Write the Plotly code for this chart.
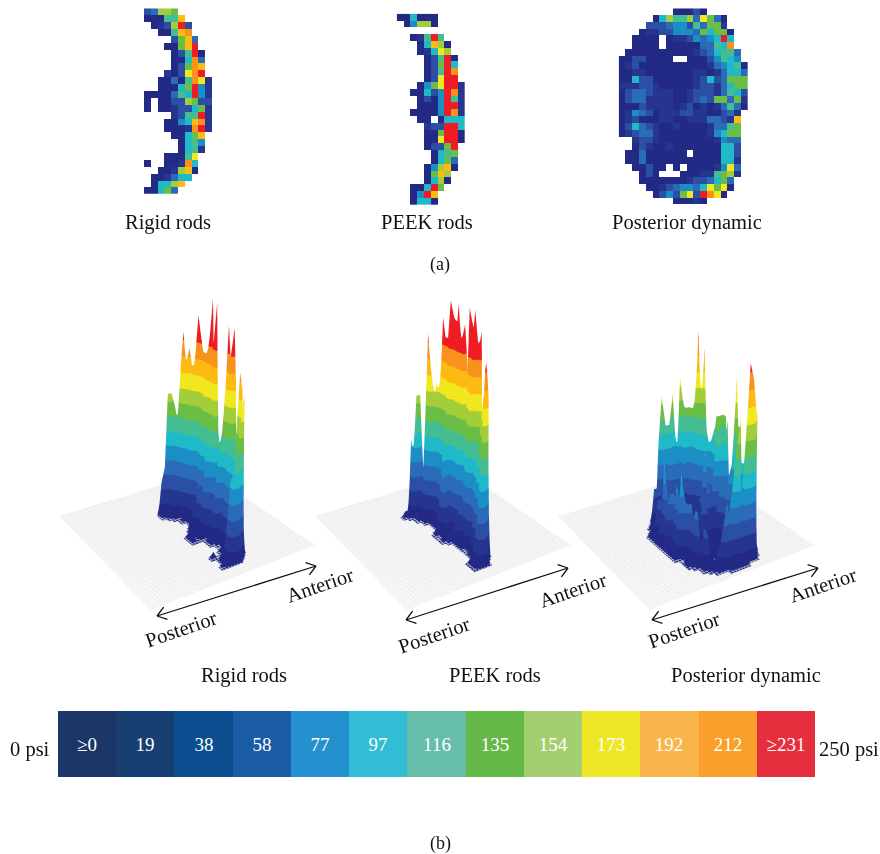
import numpy as np
import plotly.graph_objects as go

W, H = 880, 854
SERIF = "Liberation Serif"

# psi bin lower limits, colour legend labels
LEVEL_PSI = [0, 19, 38, 58, 77, 97, 116, 135, 154, 173, 192, 212, 231, 250]
LEGEND_LABELS = ["≥0", "19", "38", "58", "77", "97", "116", "135", "154", "173", "192", "212", "≥231"]
LEVEL_COLORS = ["#232a86", "#26368f", "#2a4fa5", "#2a6cb8", "#1b8ec6", "#1fb9c8", "#45bd93", "#6abd45",
                "#a3cd39", "#f1e71f", "#fdba12", "#f7931d", "#ee1c25"]
LEGEND_COLORS = ["#1c3668", "#183f72", "#0b4f91", "#1a5ca6", "#2490cd", "#33bcd6", "#66bdaa", "#66b848",
                 "#a3cf70", "#efe627", "#f9b54a", "#f8a02b", "#e62f3e"]
CODES = "0123456789abc"
# red cells whose spikes rise above the scale in panel (b)
HIGH_PSI = {"d": 262, "e": 285}

# sensor cells read from the pressure maps: one character per bin, "." = no contact
RIGID = [
    "23887.....", "00066a....", ".0128c2...", "..006ab...", "....27a3..", "...007ad..", "....026c0.",
    "....005b3.", "....027ba.", "...1029be.", "..00306b91", "..00057c41", "0000365e41", "0.00228722",
    "0.00122571", "....1266d1", "...0045ab1", "...0001bd1", "....0057a.", ".....0564.", ".....0561.",
    "...00069..", "0..001b5..", "..0018a0..", ".001355...", ".0558a....", "00573.....",
]
PEEK = [
    "005000....", ".04880....", "..........", "..016c6...", "...05a80..", "...01598..", "....026d0.",
    "....027c5.", "....026cb.", "....029ed.", "...0479cd1", "..00524cb1", "...0204e61", "...0004cd1",
    "..00004cb1", "...00.0555", "....122ed5", "....007cd0", "....009ec0", "....0227d.", ".....0567.",
    ".....0573.", "....048a0.", "....07a8..", "....0580..", "..005c7...", "..04ca....", "..0550....",
]
DYNAMIC = [
    "........00020......", ".....05866839730...", "....222344263771...", "...01122444375770..",
    "..0000.01124345c5..", "..0000.000003365b..", ".00000000001235663.", "00220000..00024654.",
    "0120000000000134560", "0011000000011013553", "0052200000012523777", "1112210000012213577",
    "0233211100122213652", "0233111100123277371", "0002111101201013630", "014320111221100231.",
    "01200011001113321a.", "025321001000013367.", "012331000000014577.", "..1221000000001433.",
    "..0210010000000552.", ".003000000.0000552.", ".00300000000000551.", "..00200.0.00001493.",
    "...020...000116781.", "...00000001223573..", "....0012344359790..", ".....0242792cb90...",
    "........00010......",
]
FLOOR_LINES = 57
CELLS = 45
OFFSETS = {"rigid": (21, 14), "peek": (18, 13), "dynamic": (14, 14)}


def px(x):
    return x / W


def py(y):
    return 1 - y / H


def stepped(colors):
    out = []
    for i, c in enumerate(colors):
        out += [[LEVEL_PSI[i] / 250, c], [LEVEL_PSI[i + 1] / 250, c]]
    return out


def cells(rows):
    n = max(len(r) for r in rows)
    m = np.full((len(rows), n), np.nan)
    for i, r in enumerate(rows):
        for j, ch in enumerate(r):
            if ch in CODES:
                k = CODES.index(ch)
                m[i, j] = (LEVEL_PSI[k] + LEVEL_PSI[k + 1]) / 2
            elif ch in HIGH_PSI:
                m[i, j] = HIGH_PSI[ch]
    return m


def on_floor(m, off):
    f = np.full((CELLS, CELLS), np.nan)
    ox, oy = off
    for i in range(m.shape[0]):
        for j in range(m.shape[1]):
            f[CELLS - 1 - (i + oy), j + ox] = m[i, j]
    d = ~np.isnan(f)
    ring = np.zeros_like(d)
    for a in (-1, 0, 1):
        for b in (-1, 0, 1):
            ring |= np.roll(np.roll(d, a, 0), b, 1)
    f[ring & ~d] = 0
    return f


fig = go.Figure()
scale = stepped(LEVEL_COLORS)

# (a) maps
MAPS = [(RIGID, 144.0, 212.3, 8.3, 193.8), (PEEK, 396.7, 465.0, 13.7, 205.0), (DYNAMIC, 618.7, 748.0, 8.3, 204.0)]
for i, (rows, x0, x1, y0, y1) in enumerate(MAPS):
    m = cells(rows)
    xa, ya = f"x{i + 1}", f"y{i + 1}"
    fig.add_trace(go.Heatmap(z=m, xaxis=xa, yaxis=ya, zmin=0, zmax=250, colorscale=scale,
                             showscale=False, hoverongaps=False))
    fig.layout[f"xaxis{i + 1}"] = dict(domain=[px(x0), px(x1)], range=[-0.5, m.shape[1] - 0.5], visible=False,
                                       anchor=ya)
    fig.layout[f"yaxis{i + 1}"] = dict(domain=[py(y1), py(y0)], range=[m.shape[0] - 0.5, -0.5], visible=False,
                                       anchor=xa)

# legend strip
strip = [(LEVEL_PSI[k] + LEVEL_PSI[k + 1]) / 2 for k in range(13)]
fig.add_trace(go.Heatmap(z=[strip], x=list(range(13)), text=[LEGEND_LABELS], texttemplate="%{text}",
                         textfont=dict(family=SERIF, size=19, color="white"), zmin=0, zmax=250,
                         colorscale=stepped(LEGEND_COLORS), showscale=False, xaxis="x4", yaxis="y4",
                         xgap=0, ygap=0))
fig.layout["xaxis4"] = dict(domain=[px(58), px(815)], range=[-0.5, 12.5], visible=False, anchor="y4")
fig.layout["yaxis4"] = dict(domain=[py(777), py(711)], range=[-0.5, 0.5], visible=False, anchor="x4")

# (b) surfaces
floor_grid = np.arange(FLOOR_LINES)
cell_grid = np.arange(CELLS) * (FLOOR_LINES - 1) / (CELLS - 1)
SCENES = [("rigid", RIGID, 18), ("peek", PEEK, 274), ("dynamic", DYNAMIC, 517)]
for i, (key, rows, dx) in enumerate(SCENES):
    name = "scene" if i == 0 else f"scene{i + 1}"
    z = on_floor(cells(rows), OFFSETS[key])
    fig.add_trace(go.Surface(x=floor_grid, y=floor_grid, z=np.zeros((FLOOR_LINES, FLOOR_LINES)), scene=name,
                             showscale=False, colorscale=[[0, "#fbfbfb"], [1, "#fbfbfb"]], hoverinfo="skip",
                             lighting=dict(ambient=1, diffuse=0, specular=0, roughness=1, fresnel=0),
                             contours=dict(x=dict(show=True, start=0, end=56, size=1, color="#e6e6e6", width=1),
                                           y=dict(show=True, start=0, end=56, size=1, color="#e6e6e6", width=1))))
    fig.add_trace(go.Surface(x=cell_grid, y=cell_grid, z=z, surfacecolor=z, cmin=0, cmax=250, colorscale=scale,
                             showscale=False, scene=name,
                             lighting=dict(ambient=1, diffuse=0, specular=0, roughness=1, fresnel=0)))
    axis = dict(visible=False, showbackground=False)
    fig.layout[name] = dict(
        domain=dict(x=[px(dx), px(dx + 330)], y=[py(736), py(82)]),
        xaxis=dict(range=[0, 56], **axis), yaxis=dict(range=[0, 56], **axis), zaxis=dict(range=[0, 320], **axis),
        aspectmode="manual", aspectratio=dict(x=1, y=1, z=1.42), bgcolor="rgba(0,0,0,0)",
        camera=dict(eye=dict(x=-2.0, y=-3.09, z=1.56), up=dict(x=0, y=0, z=1), center=dict(x=0, y=0, z=0),
                    projection=dict(type="perspective")))

# texts
notes = []


def text(x, y, s, size=20.5, angle=0, anchor="center"):
    notes.append(dict(x=px(x), y=py(y), xref="paper", yref="paper", text=s, showarrow=False, textangle=angle,
                      xanchor=anchor, yanchor="middle", font=dict(family=SERIF, size=size, color="#111")))


for x, s in [(168, "Rigid rods"), (427, "PEEK rods"), (687, "Posterior dynamic")]:
    text(x, 222, s)
for x, s in [(244, "Rigid rods"), (495, "PEEK rods"), (746, "Posterior dynamic")]:
    text(x, 675, s)
text(440, 264, "(a)", size=18)
text(440, 843, "(b)", size=18)
text(52, 749, "0 psi", anchor="right")
text(817, 749, "250 psi", anchor="left")

shapes = []


def arrow(a, b):
    (x0, y0), (x1, y1) = a, b
    L = np.hypot(x1 - x0, y1 - y0)
    ux, uy = (x1 - x0) / L, (y1 - y0) / L
    path = f"M{px(x0)},{py(y0)} L{px(x1)},{py(y1)} "
    for (tx, ty), sgn in (((x0, y0), 1), ((x1, y1), -1)):
        for rot in (0.62, -0.62):
            c, s_ = np.cos(rot), np.sin(rot)
            hx = sgn * (ux * c - uy * s_) * 11
            hy = sgn * (ux * s_ + uy * c) * 11
            path += f"M{px(tx + hx)},{py(ty + hy)} L{px(tx)},{py(ty)} "
    shapes.append(dict(type="path", path=path, xref="paper", yref="paper", line=dict(color="#111", width=1.3)))


for a, b, post, ante in [
    ((157, 616), (316, 566), (181, 629), (320, 585)),
    ((406, 620), (568, 568), (434, 635), (573, 590)),
    ((652, 620), (818, 568), (684, 630), (823, 585)),
]:
    arrow(a, b)
    text(post[0], post[1], "Posterior", angle=-19)
    text(ante[0], ante[1], "Anterior", angle=-19)

fig.update_layout(width=W, height=H, margin=dict(l=0, r=0, t=0, b=0), paper_bgcolor="white", plot_bgcolor="white",
                  annotations=notes, shapes=shapes, showlegend=False)
fig.write_html("out.html", config=dict(displayModeBar=False),
               post_script="document.body.style.margin='0';document.documentElement.style.overflow='hidden';")
